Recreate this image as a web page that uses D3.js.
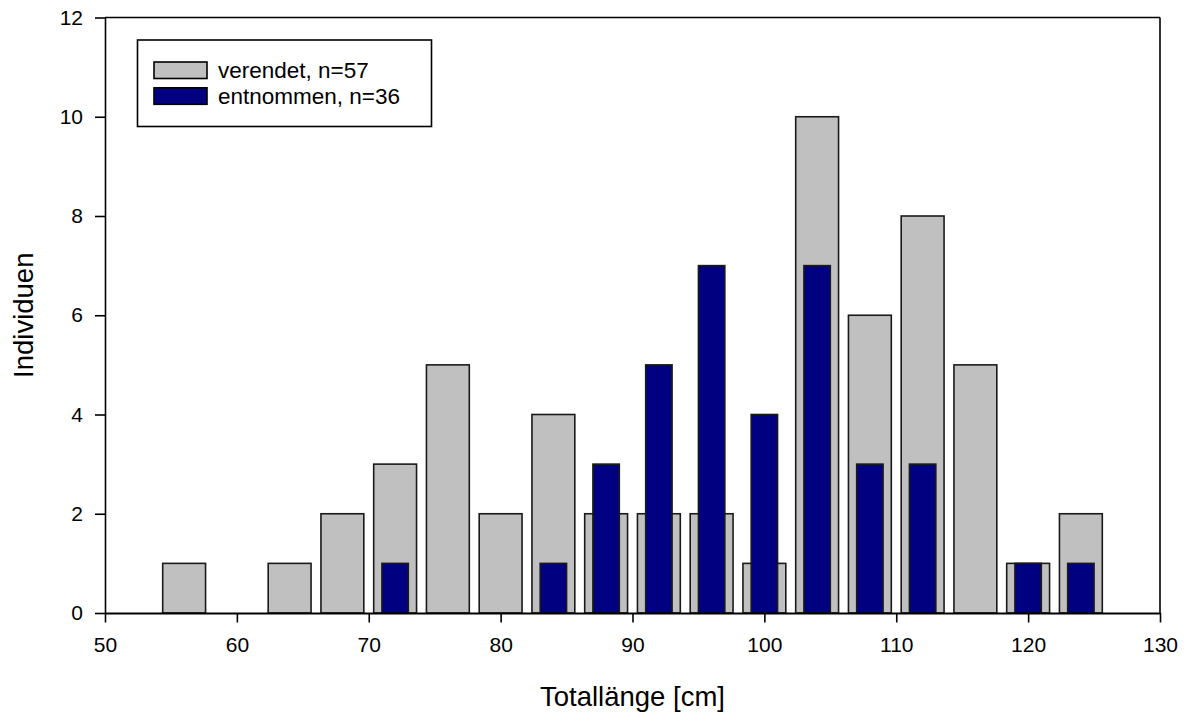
<!DOCTYPE html>
<html>
<head>
<meta charset="utf-8">
<script src="https://d3js.org/d3.v7.min.js"></script>
<style>
  body { margin: 0; background: #fff; }
  text { font-family: "Liberation Sans", Arial, sans-serif; fill: #000; }
</style>
</head>
<body>
<svg id="chart" width="1187" height="715"></svg>
<script>
// bin centres (Totallänge, cm)
var lengths    = [56, 60, 64, 68, 72, 76, 80, 84, 88, 92, 96, 100, 104, 108, 112, 116, 120, 124];
var verendet   = [1, 0, 1, 2, 3, 5, 2, 4, 2, 2, 2, 1, 10, 6, 8, 5, 1, 2];
var entnommen  = [0, 0, 0, 0, 1, 0, 0, 1, 3, 5, 7, 4, 7, 3, 3, 0, 1, 1];
var xTicks = [50, 60, 70, 80, 90, 100, 110, 120, 130];
var yTicks = [0, 2, 4, 6, 8, 10, 12];
var seriesNames = ['verendet, n=57', 'entnommen, n=36'];
var seriesColors = ['#c0c0c0', '#000080'];

const svg = d3.select('#chart');

// plot area edges (note: "top" is reserved on window, so use plot*)
var plotLeft = 105, plotRight = 1160, plotTop = 17.5, plotBottom = 613;

var x = d3.scaleLinear().domain([50, 130]).range([plotLeft, plotRight]);
var y = d3.scaleLinear().domain([0, 12]).range([plotBottom, plotTop]);

var greyW = 3.25, blueW = 2.0;

// grey bars (verendet)
svg.append('g').selectAll('rect')
    .data(lengths.map((l, i) => ({ l: l, v: verendet[i] })).filter(d => d.v > 0))
    .enter().append('rect')
    .attr('x', d => x(d.l - greyW / 2))
    .attr('width', d => x(d.l + greyW / 2) - x(d.l - greyW / 2))
    .attr('y', d => y(d.v))
    .attr('height', d => y(0) - y(d.v))
    .attr('fill', seriesColors[0])
    .attr('stroke', '#1a1a1a')
    .attr('stroke-width', 1.6);

// blue bars (entnommen), drawn on top
svg.append('g').selectAll('rect')
    .data(lengths.map((l, i) => ({ l: l, v: entnommen[i] })).filter(d => d.v > 0))
    .enter().append('rect')
    .attr('x', d => x(d.l - blueW / 2))
    .attr('width', d => x(d.l + blueW / 2) - x(d.l - blueW / 2))
    .attr('y', d => y(d.v))
    .attr('height', d => y(0) - y(d.v))
    .attr('fill', seriesColors[1])
    .attr('stroke', '#1a1a1a')
    .attr('stroke-width', 1.6);

// frame: top and right lines
svg.append('line')
    .attr('x1', plotLeft).attr('x2', plotRight).attr('y1', plotTop).attr('y2', plotTop)
    .attr('stroke', '#000').attr('stroke-width', 1.6);
svg.append('line')
    .attr('x1', plotRight).attr('x2', plotRight).attr('y1', plotTop).attr('y2', plotBottom)
    .attr('stroke', '#000').attr('stroke-width', 1.6);

// x axis
const xAxis = d3.axisBottom(x)
    .tickValues(xTicks)
    .tickSize(9.5)
    .tickPadding(15)
    .tickSizeOuter(0);
const xAxisG = svg.append('g')
    .attr('transform', `translate(0,${plotBottom})`)
    .call(xAxis);
xAxisG.attr('font-size', 21).attr('font-family', '"Liberation Sans", Arial, sans-serif');
xAxisG.select('.domain').attr('stroke-width', 2.2);
xAxisG.selectAll('.tick line').attr('stroke-width', 1.6);

// y axis
const yAxis = d3.axisLeft(y)
    .tickValues(yTicks)
    .tickSize(10)
    .tickPadding(12)
    .tickSizeOuter(0);
const yAxisG = svg.append('g')
    .attr('transform', `translate(${plotLeft},0)`)
    .call(yAxis);
yAxisG.attr('font-size', 21).attr('font-family', '"Liberation Sans", Arial, sans-serif');
yAxisG.select('.domain').attr('stroke-width', 1.6);
yAxisG.selectAll('.tick line').attr('stroke-width', 1.6);

// axis titles
svg.append('text')
    .attr('x', (plotLeft + plotRight) / 2)
    .attr('y', 706)
    .attr('text-anchor', 'middle')
    .style('font-size', '27.5px')
    .text('Totallänge [cm]');

svg.append('text')
    .attr('transform', `translate(33,${(plotTop + plotBottom) / 2}) rotate(-90)`)
    .attr('text-anchor', 'middle')
    .style('font-size', '27.5px')
    .text('Individuen');

// legend
const legend = svg.append('g');
legend.append('rect')
    .attr('x', 137.5).attr('y', 40)
    .attr('width', 294).attr('height', 86.5)
    .attr('fill', '#fff')
    .attr('stroke', '#000')
    .attr('stroke-width', 1.6);

var legendRows = legend.selectAll('.row')
    .data(seriesNames)
    .enter().append('g')
    .attr('class', 'row')
    .attr('transform', (d, i) => `translate(0,${i * 25.8})`);

legendRows.append('rect')
    .attr('x', 154).attr('y', 62)
    .attr('width', 53).attr('height', 16.5)
    .attr('fill', (d, i) => seriesColors[i])
    .attr('stroke', '#000')
    .attr('stroke-width', 1.6);

legendRows.append('text')
    .attr('x', 218).attr('y', 78.3)
    .style('font-size', '22.5px')
    .text(d => d);
</script>
</body>
</html>
